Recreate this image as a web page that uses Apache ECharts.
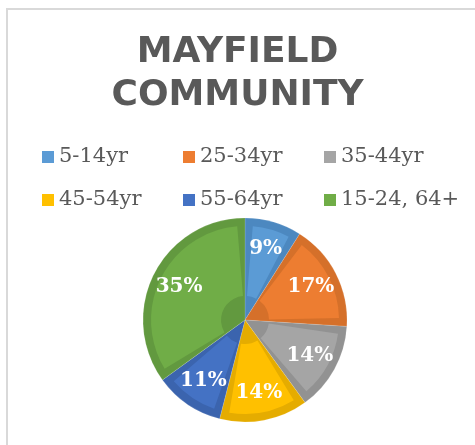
<!DOCTYPE html>
<html>
<head>
<meta charset="utf-8">
<script src="https://cdn.jsdelivr.net/npm/echarts@6/dist/echarts.min.js"></script>
<style>
  html, body { margin: 0; padding: 0; background: #fff; }
  #chart { width: 475px; height: 445px; }
</style>
</head>
<body>
<div id="chart"></div>
<script>
// age groups, in drawing order (clockwise from 12 o'clock)
var groups = ['5-14yr', '25-34yr', '35-44yr', '45-54yr', '55-64yr', '15-24, 64+'];
var shares = [9, 17, 14, 14, 11, 35];
var fillColors = ['#5b9bd5', '#ed7d31', '#a5a5a5', '#ffc000', '#4472c4', '#70ad47'];
var edgeColors = ['#4c88c0', '#d5702a', '#929292', '#e5ac00', '#3b64ae', '#62993f'];

var chart = echarts.init(document.getElementById('chart'));

function items(colors) {
  return groups.map(function (g, i) {
    return { name: g, value: shares[i], itemStyle: { color: colors[i] } };
  });
}

var pieBase = {
  type: 'pie',
  center: [245, 320],
  startAngle: 90,
  clockwise: true,
  silent: true,
  animation: false,
  label: { show: false },
  labelLine: { show: false },
  emphasis: { disabled: true }
};

var legendText = {
  color: '#595959',
  fontFamily: 'DejaVu Serif',
  fontSize: 21,
  lineHeight: 24,
  width: 112
};

chart.setOption({
  backgroundColor: '#fff',
  graphic: [{
    type: 'rect',
    shape: { x: 7, y: 9, width: 520, height: 500 },
    style: { fill: 'none', stroke: '#d9d9d9', lineWidth: 2 },
    silent: true
  }],
  title: {
    text: 'MAYFIELD\nCOMMUNITY',
    left: 'center',
    top: 31,
    padding: [0, 0, 0, 15],
    textStyle: {
      fontFamily: 'DejaVu Sans',
      fontWeight: 'bold',
      fontSize: 36,
      lineHeight: 43,
      color: '#595959'
    }
  },
  legend: [{
    data: groups.slice(0, 3),
    left: 42,
    top: 145,
    padding: 0,
    itemWidth: 12,
    itemHeight: 12,
    itemGap: 12,
    icon: 'rect',
    selectedMode: false,
    textStyle: legendText
  }, {
    data: groups.slice(3),
    left: 42,
    top: 188,
    padding: 0,
    itemWidth: 12,
    itemHeight: 12,
    itemGap: 12,
    icon: 'rect',
    selectedMode: false,
    textStyle: legendText
  }],
  series: [
    // lighter inner faces
    Object.assign({}, pieBase, {
      name: 'face',
      z: 3,
      radius: [24, 94],
      padAngle: 9.5,
      data: items(fillColors)
    }),
    // darker bevel underneath
    Object.assign({}, pieBase, {
      name: 'edge',
      z: 2,
      radius: [0, 102],
      itemStyle: { borderColor: 'rgba(255,255,255,0.25)', borderWidth: 0.5 },
      data: items(edgeColors)
    }),
    // labels only
    Object.assign({}, pieBase, {
      name: 'labels',
      z: 4,
      radius: [40, 102],
      itemStyle: { color: 'rgba(0,0,0,0)' },
      label: {
        show: true,
        position: 'inside',
        formatter: '{c}%',
        color: '#fff',
        fontFamily: 'DejaVu Serif',
        fontWeight: 'bold',
        fontSize: 20
      },
      data: groups.map(function (g, i) { return { name: g, value: shares[i] }; })
    })
  ]
});
</script>
</body>
</html>
